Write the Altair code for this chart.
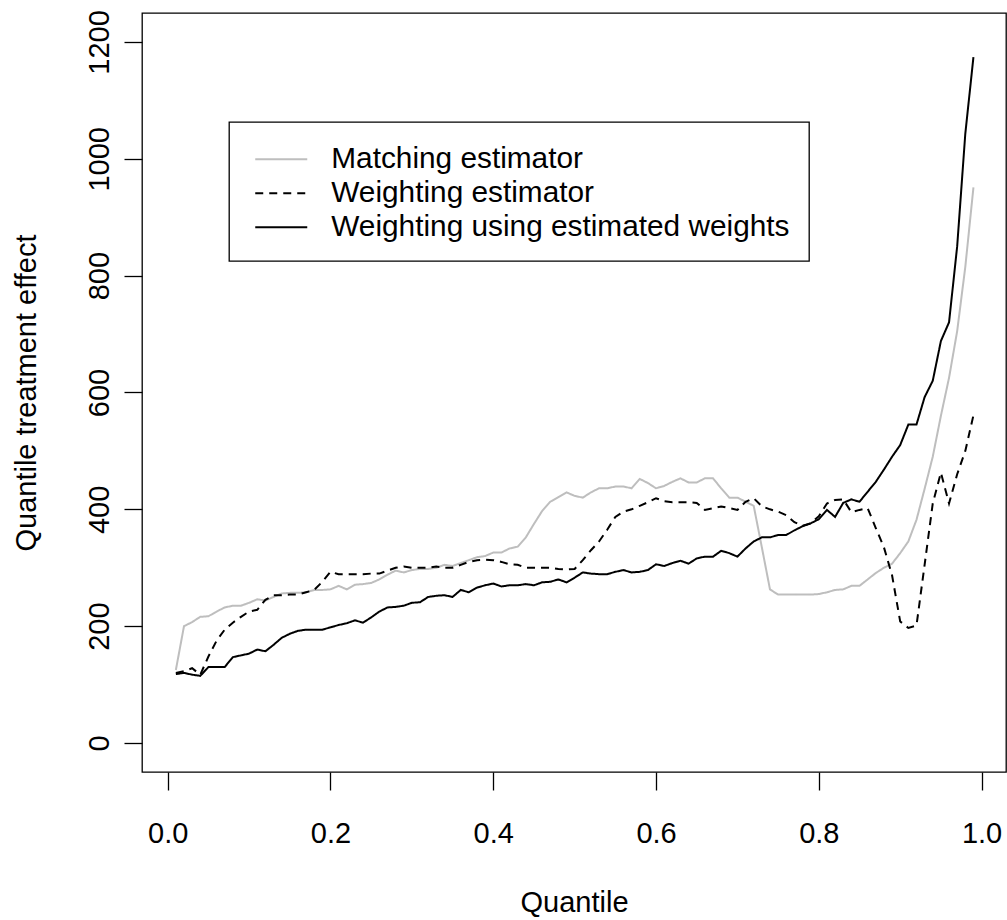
import altair as alt
import pandas as pd

# Quantile grid (x positions of the estimates)
quantiles = [round(0.01 * i, 2) for i in range(1, 100)]

series_names = [
    "Matching estimator",
    "Weighting estimator",
    "Weighting using estimated weights",
]

matching = [
    125, 200, 207, 216, 217, 225, 232, 235, 235, 240,
    246, 244, 250, 256, 257, 257, 258, 262, 262, 263,
    269, 263, 271, 272, 274, 280, 288, 295, 292, 296,
    298, 298, 300, 305, 303, 308, 313, 318, 320, 326,
    326, 333, 336, 352, 375, 397, 413, 421, 429, 423,
    420, 429, 436, 436, 439, 439, 436, 452, 445, 436,
    440, 447, 453, 446, 446, 453, 453, 436, 420, 420,
    413, 406, 335, 263, 254, 254, 254, 254, 254, 255,
    258, 262, 263, 269, 269, 280, 291, 300, 307, 325,
    345, 382, 435, 490, 560, 625, 705, 815, 951,
]

weighting = [
    120, 123, 128, 117, 148, 175, 194, 206, 216, 225,
    228, 245, 253, 253, 254, 254, 258, 262, 276, 293,
    289, 289, 289, 289, 290, 290, 295, 300, 302, 300,
    300, 300, 302, 300, 300, 305, 310, 313, 314, 313,
    310, 306, 305, 300, 300, 300, 300, 298, 297, 298,
    313, 330, 345, 365, 387, 396, 400, 406, 412, 419,
    414, 412, 412, 412, 411, 399, 402, 405, 402, 399,
    413, 419, 405, 400, 396, 390, 378, 372, 376, 388,
    410, 416, 417, 395, 399, 402, 368, 335, 287, 208,
    197, 201, 305, 410, 463, 410, 460, 500, 561,
]

estimated = [
    118, 120, 117, 115, 130, 130, 130, 147, 150, 153,
    160, 157, 168, 180, 187, 192, 194, 194, 194, 198,
    202, 205, 210, 206, 215, 225, 232, 233, 235, 240,
    241, 250, 252, 253, 250, 262, 258, 266, 270, 273,
    268, 270, 270, 272, 270, 275, 276, 280, 275, 283,
    292, 290, 289, 289, 293, 296, 292, 293, 296, 306,
    303, 308, 312, 307, 316, 319, 319, 329, 325, 319,
    333, 345, 352, 352, 356, 356, 364, 371, 376, 383,
    399, 387, 411, 417, 413, 430, 447, 468, 490, 510,
    545, 545, 592, 620, 688, 720, 850, 1043, 1174,
]

x_ticks = [0.0, 0.2, 0.4, 0.6, 0.8, 1.0]
y_ticks = [0, 200, 400, 600, 800, 1000, 1200]

rows = []
for name, vals in zip(series_names, [matching, weighting, estimated]):
    for q, v in zip(quantiles, vals):
        rows.append({"q": q, "value": v, "series": name})
df = pd.DataFrame(rows)

FONT = "Liberation Sans"

chart = (
    alt.Chart(df)
    .mark_line(strokeWidth=2, clip=True)
    .encode(
        x=alt.X(
            "q:Q",
            scale=alt.Scale(domain=[-0.0316, 1.03], nice=False, zero=False),
            axis=alt.Axis(
                values=x_ticks,
                format=".1f",
                title="Quantile",
                labelPadding=52,
                labelBaseline="alphabetic",
                labelFlush=False,
                labelOverlap=False,
                titleX=432,
                titleY=139,
                titleBaseline="alphabetic",
                titleAlign="center",
            ),
        ),
        y=alt.Y(
            "value:Q",
            scale=alt.Scale(domain=[-49.6, 1249.5], nice=False, zero=False),
            axis=alt.Axis(
                values=y_ticks,
                format="d",
                title="Quantile treatment effect",
                labelAngle=270,
                labelAlign="center",
                labelBaseline="alphabetic",
                labelPadding=16,
                labelFlush=False,
                labelOverlap=False,
                titleAngle=270,
                titleX=-107,
                titleY=379.5,
                titleBaseline="alphabetic",
                titleAlign="center",
            ),
        ),
        color=alt.Color(
            "series:N",
            title=None,
            sort=series_names,
            scale=alt.Scale(domain=series_names, range=["#BEBEBE", "#000000", "#000000"]),
        ),
        strokeDash=alt.StrokeDash(
            "series:N",
            title=None,
            sort=series_names,
            scale=alt.Scale(domain=series_names, range=[[1, 0], [8, 6], [1, 0]]),
        ),
    )
    .properties(
        width=864,
        height=759,
        padding={"left": 142, "top": 13, "right": 1, "bottom": 148},
        autosize=alt.AutoSizeParams(type="none"),
    )
    .configure_view(stroke="black", strokeWidth=1.3)
    .configure_axis(
        domain=False,
        grid=False,
        tickColor="black",
        tickWidth=1.3,
        tickSize=18,
        labelFont=FONT,
        labelFontSize=29,
        labelColor="black",
        titleFont=FONT,
        titleFontSize=29,
        titleFontWeight="normal",
        titleColor="black",
    )
    .configure_legend(
        orient="none",
        legendX=87,
        legendY=109,
        strokeColor="black",
        strokeWidth=1.3,
        fillColor="white",
        padding=18.75,
        symbolType="M-0.638,0H2.377",
        symbolSize=1190,
        symbolStrokeWidth=2,
        labelFont=FONT,
        labelFontSize=29.8,
        labelColor="black",
        labelOffset=46.5,
        labelLimit=0,
        rowPadding=0,
    )
)

chart.save("out.html", embed_options={"renderer": "svg", "actions": False})
